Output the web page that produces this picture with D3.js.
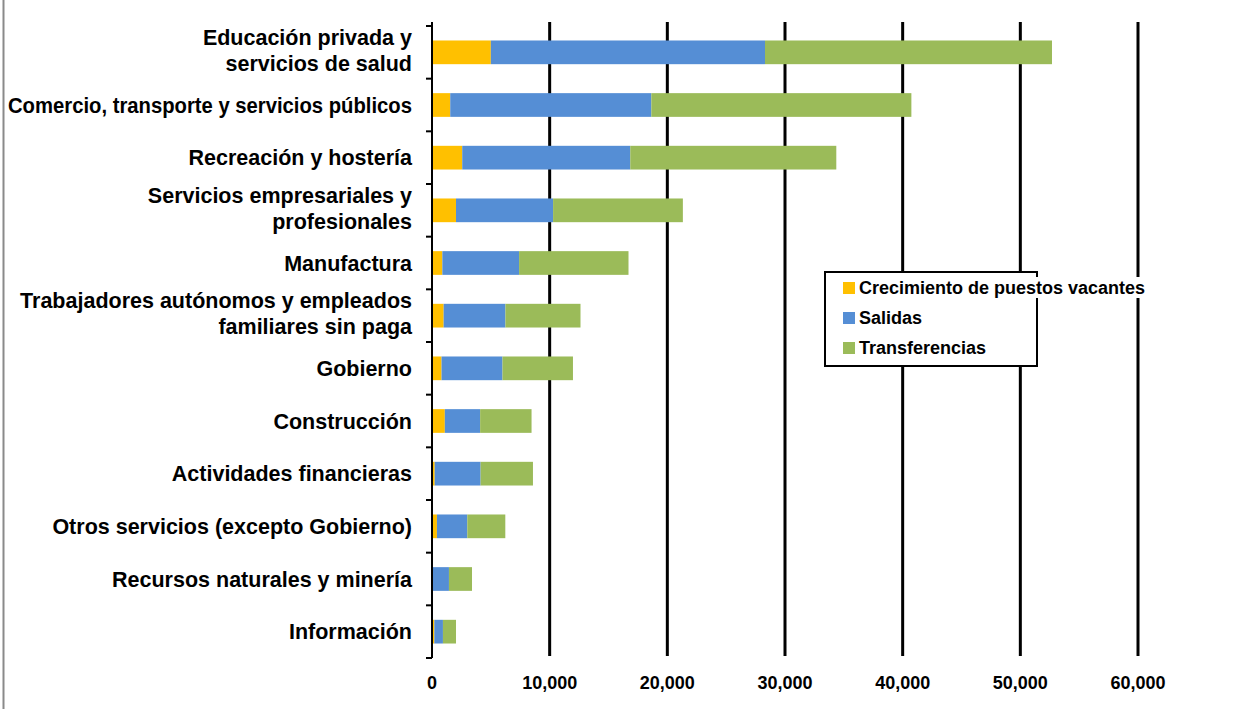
<!DOCTYPE html>
<html>
<head>
<meta charset="utf-8">
<script src="https://cdn.jsdelivr.net/npm/d3@7"></script>
<style>
  html, body { margin: 0; padding: 0; background: #fff; }
  svg { display: block; font-family: "Liberation Sans", Arial, sans-serif; }
</style>
</head>
<body>
<svg id="chart" width="1247" height="709"></svg>
<script>
const categories = [
  "Educación privada y\nservicios de salud",
  "Comercio, transporte y servicios públicos",
  "Recreación y hostería",
  "Servicios empresariales y\nprofesionales",
  "Manufactura",
  "Trabajadores autónomos y empleados\nfamiliares sin paga",
  "Gobierno",
  "Construcción",
  "Actividades financieras",
  "Otros servicios (excepto Gobierno)",
  "Recursos naturales y minería",
  "Información"
];
const seriesNames = ["Crecimiento de puestos vacantes", "Salidas", "Transferencias"];
const crecimiento = [5000, 1550, 2570, 2040, 880, 990, 810, 1090, 230, 420, 60, 200];
const salidas = [23300, 17090, 14280, 8250, 6520, 5250, 5180, 3000, 3900, 2580, 1380, 730];
const transferencias = [24390, 22100, 17510, 11030, 9300, 6380, 5990, 4370, 4450, 3230, 1960, 1110];
const xTicks = [0, 10000, 20000, 30000, 40000, 50000, 60000];
const colors = ["#FFC000", "#558ED5", "#9BBB59"];

const svg = d3.select("#chart");
const x = d3.scaleLinear().domain([0, 60000]).range([432, 1138]);
const y = d3.scaleBand().domain(categories).range([26, 658]).paddingInner(0.55).paddingOuter(0.275);

// left page border
svg.append("line").attr("x1", 3.5).attr("x2", 3.5).attr("y1", 0).attr("y2", 709)
  .attr("stroke", "#8a8a8a").attr("stroke-width", 2);

// gridlines
svg.append("g").selectAll("line").data(xTicks.filter(d => d > 0)).join("line")
  .attr("x1", d => x(d)).attr("x2", d => x(d))
  .attr("y1", 22).attr("y2", 656)
  .attr("stroke", "#000").attr("stroke-width", 3);

// stacked bars
const table = categories.map((c, i) => ({cat: c, s0: crecimiento[i], s1: salidas[i], s2: transferencias[i]}));
const stack = d3.stack().keys(["s0", "s1", "s2"])(table);
svg.append("g").selectAll("g").data(stack).join("g")
  .attr("fill", (d, i) => colors[i])
  .selectAll("rect").data(d => d).join("rect")
  .attr("x", d => x(d[0]))
  .attr("width", d => Math.max(0, x(d[1]) - x(d[0])))
  .attr("y", d => y(d.data.cat))
  .attr("height", y.bandwidth());

// y axis line + ticks at band boundaries
svg.append("line").attr("x1", 432).attr("x2", 432).attr("y1", 22).attr("y2", 658)
  .attr("stroke", "#000").attr("stroke-width", 2);
const step = y.step();
const bounds = d3.range(categories.length + 1).map(i => 26 + i * step);
svg.append("g").selectAll("line").data(bounds).join("line")
  .attr("x1", 426).attr("x2", 432)
  .attr("y1", d => d).attr("y2", d => d)
  .attr("stroke", "#000").attr("stroke-width", 2);

// category labels
const lab = svg.append("g").attr("font-weight", "bold").attr("font-size", 21.5).attr("fill", "#000")
  .attr("text-anchor", "end");
categories.forEach(c => {
  const lines = c.split("\n");
  const cy = y(c) + y.bandwidth() / 2;
  const lh = 26;
  lines.forEach((l, j) => {
    const t = lab.append("text").attr("x", 412)
      .attr("y", cy + (j - (lines.length - 1) / 2) * lh - (lines.length > 1 ? 2 : 0))
      .attr("dy", "0.35em").text(l);
    const w = t.node().getComputedTextLength();
    if (w > 404) t.attr("textLength", 404).attr("lengthAdjust", "spacingAndGlyphs");
  });
});

// x tick labels
svg.append("g").attr("font-weight", "bold").attr("font-size", 18).attr("text-anchor", "middle")
  .selectAll("text").data(xTicks).join("text")
  .attr("x", d => x(d)).attr("y", 683).attr("dy", "0.35em")
  .text(d => d3.format(",")(d));

// legend
const lg = svg.append("g");
lg.append("rect").attr("x", 825).attr("y", 272).attr("width", 212).attr("height", 94)
  .attr("fill", "#fff").attr("stroke", "#000").attr("stroke-width", 2);
lg.append("rect").attr("x", 1036).attr("y", 277).attr("width", 114).attr("height", 21).attr("fill", "#fff");
const ly = [288, 318, 348];
seriesNames.forEach((n, i) => {
  lg.append("rect").attr("x", 843).attr("y", ly[i] - 6).attr("width", 12).attr("height", 12).attr("fill", colors[i]);
  lg.append("text").attr("x", 859).attr("y", ly[i]).attr("dy", "0.35em")
    .attr("font-weight", "bold").attr("font-size", 18).text(n);
});
</script>
</body>
</html>
